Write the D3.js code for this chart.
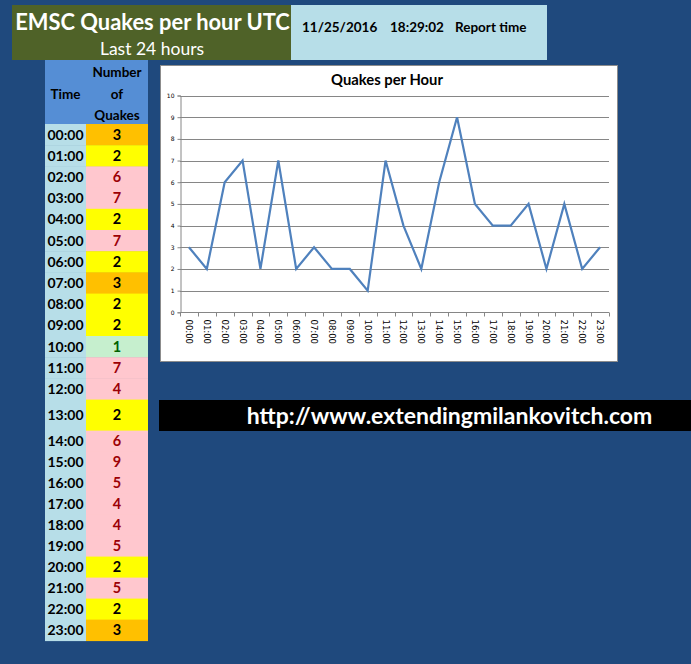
<!DOCTYPE html>
<html>
<head>
<meta charset="utf-8">
<script src="https://cdn.jsdelivr.net/npm/d3@7"></script>
<style>
  body { margin: 0; background: #1F497D; }
  svg { display: block; font-family: Lato, "Open Sans", sans-serif; }
</style>
</head>
<body>
<svg id="chart" width="691" height="664"></svg>
<script>
// hourly quake counts, last 24 hours
var hours = ["00:00", "01:00", "02:00", "03:00", "04:00", "05:00", "06:00", "07:00",
  "08:00", "09:00", "10:00", "11:00", "12:00", "13:00", "14:00", "15:00",
  "16:00", "17:00", "18:00", "19:00", "20:00", "21:00", "22:00", "23:00"];
var quakes = [3, 2, 6, 7, 2, 7, 2, 3, 2, 2, 1, 7, 4, 2, 6, 9, 5, 4, 4, 5, 2, 5, 2, 3];
var yTicks = [0, 1, 2, 3, 4, 5, 6, 7, 8, 9, 10];

var svg = d3.select("#chart");

// ---- title blocks
svg.append("rect").attr("x", 12).attr("y", 5).attr("width", 279).attr("height", 55).attr("fill", "#4F6228");
svg.append("text").attr("x", 152.5).attr("y", 30).attr("text-anchor", "middle")
  .attr("fill", "#fff").attr("font-weight", "bold").attr("font-size", 21.9)
  .text("EMSC Quakes per hour UTC");
svg.append("text").attr("x", 152).attr("y", 55).attr("text-anchor", "middle")
  .attr("fill", "#fff").attr("font-size", 17.5)
  .text("Last 24 hours");

svg.append("rect").attr("x", 291).attr("y", 5).attr("width", 256).attr("height", 55).attr("fill", "#B7DEE8");
var rep = svg.append("g").attr("font-weight", "bold").attr("font-size", 13.5).attr("fill", "#000");
rep.append("text").attr("x", 302).attr("y", 32).text("11/25/2016");
rep.append("text").attr("x", 390).attr("y", 32).text("18:29:02");
rep.append("text").attr("x", 455).attr("y", 32).text("Report time");

// ---- table
var tX = 45, tMid = 86, tR = 148, headTop = 60, headBot = 124;
svg.append("rect").attr("x", tX).attr("y", headTop).attr("width", tR - tX).attr("height", headBot - headTop).attr("fill", "#558ED5");
var head = svg.append("g").attr("font-weight", "bold").attr("font-size", 13.5).attr("text-anchor", "middle");
head.append("text").attr("x", (tX + tMid) / 2).attr("y", 99).text("Time");
head.append("text").attr("x", (tMid + tR) / 2).attr("y", 77).text("Number");
head.append("text").attr("x", (tMid + tR) / 2).attr("y", 99).text("of");
head.append("text").attr("x", (tMid + tR) / 2).attr("y", 120).text("Quakes");

// row geometry: first 13 rows ~21.2px, 13:00 row taller, rest ~21px
var rows = [];
var yy = headBot;
hours.forEach(function (h, i) {
  var hgt = i < 13 ? 21.2 : (i === 13 ? 31 : 21);
  rows.push({ hour: h, value: quakes[i], y: yy, h: hgt });
  yy += hgt;
});

function cellFill(v) {
  if (v === 1) return "#C6EFCE";
  if (v === 2) return "#FFFF00";
  if (v === 3) return "#FFC000";
  return "#FFC7CE";
}
function cellText(v) {
  if (v === 1) return "#006100";
  if (v >= 4) return "#9C0006";
  return "#000";
}

var row = svg.append("g").selectAll("g").data(rows).enter().append("g");
row.append("rect").attr("x", tX).attr("y", d => d.y).attr("width", tMid - tX).attr("height", d => d.h + 0.5).attr("fill", "#B7DEE8");
row.append("rect").attr("x", tMid).attr("y", d => d.y).attr("width", tR - tMid).attr("height", d => d.h + 0.5).attr("fill", d => cellFill(d.value));
row.append("text").attr("x", (tX + tMid) / 2).attr("y", d => d.y + d.h / 2 + 5)
  .attr("text-anchor", "middle").attr("font-weight", "bold").attr("font-size", 14)
  .text(d => d.hour);
row.append("text").attr("x", (tMid + tR) / 2).attr("y", d => d.y + d.h / 2 + 5)
  .attr("text-anchor", "middle").attr("font-weight", "bold").attr("font-size", 14.5)
  .attr("fill", d => cellText(d.value))
  .text(d => d.value);

// ---- line chart
svg.append("rect").attr("x", 160.5).attr("y", 65.5).attr("width", 457).attr("height", 296)
  .attr("fill", "#fff").attr("stroke", "#8c8c8c");
svg.append("text").attr("x", 387).attr("y", 85).attr("text-anchor", "middle")
  .attr("font-weight", "bold").attr("font-size", 14.8).text("Quakes per Hour");

var x = d3.scaleBand().domain(hours).range([180, 609]);
var y = d3.scaleLinear().domain([0, 10]).range([312.3, 95.5]);

// gridlines
svg.append("g").selectAll("line").data(yTicks.filter(t => t > 0)).enter().append("line")
  .attr("x1", 180).attr("x2", 609)
  .attr("y1", d => Math.round(y(d)) + 0.5).attr("y2", d => Math.round(y(d)) + 0.5)
  .attr("stroke", "#868686").attr("stroke-width", 1);

var yAxis = svg.append("g").attr("transform", "translate(180.5,0)")
  .call(d3.axisLeft(y).tickValues(yTicks).tickSize(3).tickFormat(d3.format("d")));
yAxis.select(".domain").attr("stroke", "#868686");
yAxis.selectAll(".tick line").attr("stroke", "#868686");
yAxis.selectAll(".tick text").attr("font-size", 6).attr("font-family", "DejaVu Sans").attr("fill", "#000").attr("x", -6);

var xAxis = svg.append("g").attr("transform", "translate(0," + (Math.round(y(0)) + 0.5) + ")");
xAxis.append("line").attr("x1", 180).attr("x2", 609).attr("stroke", "#868686");
xAxis.selectAll("line.tk").data(hours.concat(["end"])).enter().append("line")
  .attr("class", "tk")
  .attr("x1", (d, i) => Math.round(180 + i * x.step()) + 0.5)
  .attr("x2", (d, i) => Math.round(180 + i * x.step()) + 0.5)
  .attr("y1", 0).attr("y2", 4).attr("stroke", "#868686");
xAxis.selectAll("text").data(hours).enter().append("text")
  .attr("transform", d => "translate(" + (x(d) + x.bandwidth() / 2 - 3) + ",7) rotate(90)")
  .attr("font-family", "DejaVu Sans").attr("font-size", 8.5).attr("fill", "#000")
  .text(d => d);

var line = d3.line()
  .x((d, i) => x(hours[i]) + x.bandwidth() / 2)
  .y(d => y(d));
svg.append("path").datum(quakes).attr("d", line)
  .attr("fill", "none").attr("stroke", "#4F81BD").attr("stroke-width", 2.2)
  .attr("stroke-linejoin", "miter");

// ---- url banner
svg.append("rect").attr("x", 159).attr("y", 400).attr("width", 532).attr("height", 31).attr("fill", "#000");
svg.append("text").attr("x", 449.5).attr("y", 424).attr("text-anchor", "middle")
  .attr("fill", "#fff").attr("font-weight", "bold").attr("font-size", 23)
  .text("http://www.extendingmilankovitch.com");
</script>
</body>
</html>
